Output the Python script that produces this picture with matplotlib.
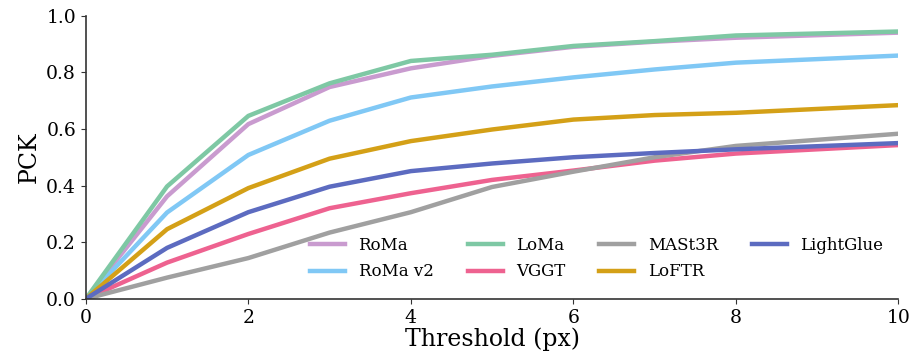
import matplotlib
matplotlib.use("Agg")
import matplotlib.pyplot as plt

plt.rcParams['font.family'] = 'DejaVu Serif'

thresholds = [0, 1, 2, 3, 4, 5, 6, 7, 8, 10]

roma = [0, 0.362, 0.617, 0.748, 0.814, 0.858, 0.890, 0.908, 0.922, 0.940]
roma_v2 = [0, 0.305, 0.508, 0.629, 0.711, 0.750, 0.782, 0.810, 0.834, 0.859]
loma = [0, 0.397, 0.646, 0.761, 0.840, 0.862, 0.893, 0.910, 0.930, 0.944]
vggt = [0, 0.128, 0.229, 0.320, 0.373, 0.420, 0.453, 0.488, 0.513, 0.543]
mast3r = [0, 0.075, 0.144, 0.234, 0.306, 0.395, 0.449, 0.500, 0.540, 0.583]
loftr = [0, 0.246, 0.391, 0.495, 0.557, 0.598, 0.633, 0.649, 0.657, 0.684]
lightglue = [0, 0.180, 0.306, 0.396, 0.451, 0.478, 0.500, 0.515, 0.528, 0.550]

series = [
    ("RoMa", roma, "#c99bcf"),
    ("RoMa v2", roma_v2, "#80c8f5"),
    ("LoMa", loma, "#7ec8a4"),
    ("VGGT", vggt, "#ee6290"),
    ("MASt3R", mast3r, "#a0a0a0"),
    ("LoFTR", loftr, "#d4a017"),
    ("LightGlue", lightglue, "#5c6bc0"),
]

fig = plt.figure(figsize=(9.13, 3.64), dpi=100)
ax = fig.add_axes([0.094, 0.179, 0.890, 0.778])

for name, vals, col in series:
    ax.plot(thresholds, vals, color=col, lw=3.2, label=name)

ax.set_xlim(0, 10)
ax.set_ylim(0, 1.0)
ax.set_xticks([0, 2, 4, 6, 8, 10])
ax.set_yticks([0, 0.2, 0.4, 0.6, 0.8, 1.0])
ax.tick_params(labelsize=13.5, color="#333333")
ax.set_xlabel("Threshold (px)", fontsize=17, labelpad=1)
ax.set_ylabel("PCK", fontsize=17)
for s in ["top", "right"]:
    ax.spines[s].set_visible(False)
for s in ["left", "bottom"]:
    ax.spines[s].set_color("#333333")
    ax.spines[s].set_linewidth(1.2)

ax.legend(ncol=4, frameon=False, fontsize=12, loc="lower right",
          bbox_to_anchor=(1.0, 0.012), handlelength=2.1, columnspacing=2.05,
          labelspacing=0.55)

fig.savefig("out.png", dpi=100)
